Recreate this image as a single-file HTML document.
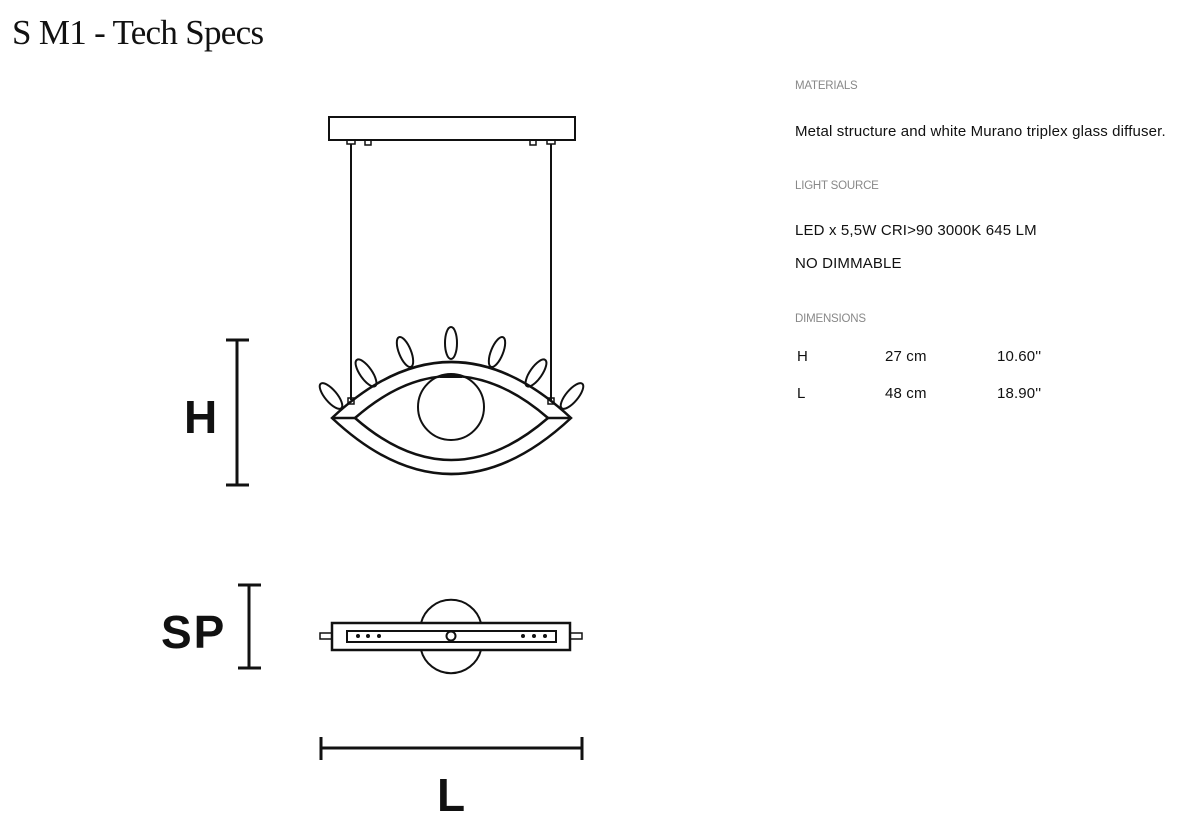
<!DOCTYPE html>
<html><head><meta charset="utf-8"><style>
html,body{margin:0;padding:0;background:#fff;width:1195px;height:825px;overflow:hidden;position:relative}
.t{position:absolute;left:12px;top:15px;font-family:"Liberation Serif",serif;font-size:35px;letter-spacing:-0.7px;color:#111;white-space:nowrap;line-height:1}
.r{position:absolute;left:795px;font-family:"Liberation Sans",sans-serif;white-space:nowrap;color:#111}
.lab{font-size:11.5px;color:#888;letter-spacing:-0.2px}
.b{font-size:15px;letter-spacing:0.15px}
</style></head><body>
<div class="t">S M1 - Tech Specs</div>
<div class="r lab" style="top:80px">MATERIALS</div>
<div class="r b" style="top:123px">Metal structure and white Murano triplex glass diffuser.</div>
<div class="r lab" style="top:180px">LIGHT SOURCE</div>
<div class="r b" style="top:222px">LED x 5,5W CRI&gt;90 3000K 645 LM</div>
<div class="r b" style="top:255px">NO DIMMABLE</div>
<div class="r lab" style="top:313px">DIMENSIONS</div>
<div class="r b" style="top:348px;left:797px">H</div>
<div class="r b" style="top:348px;left:885px">27 cm</div>
<div class="r b" style="top:348px;left:997px">10.60''</div>
<div class="r b" style="top:385px;left:797px">L</div>
<div class="r b" style="top:385px;left:885px">48 cm</div>
<div class="r b" style="top:385px;left:997px">18.90''</div>
<svg width="1195" height="825" style="position:absolute;left:0;top:0" fill="none" stroke="#111" stroke-width="2.5">
<rect x="329" y="117" width="246" height="23" stroke-width="2"/>
<rect x="347" y="140" width="8" height="4" stroke-width="1.5"/>
<rect x="365" y="140" width="6" height="5" stroke-width="1.5"/>
<rect x="530" y="140" width="6" height="5" stroke-width="1.5"/>
<rect x="547" y="140" width="8" height="4" stroke-width="1.5"/>
<line x1="351" y1="144" x2="351" y2="400" stroke-width="2"/>
<line x1="551" y1="144" x2="551" y2="400" stroke-width="2"/>
<rect x="348" y="398" width="6" height="6" stroke-width="1.5"/>
<rect x="548" y="398" width="6" height="6" stroke-width="1.5"/>
<path d="M332 418 Q451 306 571 418 Q451 530 332 418 Z"/>
<path d="M355 418 Q451 334 548 418 Q451 502 355 418 Z"/>
<line x1="332" y1="418" x2="355" y2="418"/>
<line x1="548" y1="418" x2="571" y2="418"/>
<circle cx="451" cy="407" r="33" stroke-width="2"/>
<line x1="440" y1="377" x2="462" y2="377" stroke-width="2"/>
<ellipse cx="451" cy="343" rx="6" ry="16" stroke-width="2"/>
<ellipse cx="405" cy="352" rx="6" ry="16" transform="rotate(-22 405 352)" stroke-width="2"/>
<ellipse cx="497" cy="352" rx="6" ry="16" transform="rotate(22 497 352)" stroke-width="2"/>
<ellipse cx="366" cy="373" rx="6" ry="16" transform="rotate(-35 366 373)" stroke-width="2"/>
<ellipse cx="536" cy="373" rx="6" ry="16" transform="rotate(35 536 373)" stroke-width="2"/>
<ellipse cx="331" cy="396" rx="6" ry="16" transform="rotate(-40 331 396)" stroke-width="2"/>
<ellipse cx="572" cy="396" rx="6" ry="16" transform="rotate(40 572 396)" stroke-width="2"/>
<path d="M421 623 A31 31 0 0 1 481 623 M421 650 A31 31 0 0 0 481 650" stroke-width="2"/>
<rect x="332" y="623" width="238" height="27" stroke-width="2.5"/>
<rect x="347" y="631" width="209" height="11" stroke-width="2"/>
<rect x="320" y="633" width="12" height="6" stroke-width="1.5"/>
<rect x="570" y="633" width="12" height="6" stroke-width="1.5"/>
<circle cx="451" cy="636" r="4.5" stroke-width="2"/>
<g fill="#111" stroke="none">
<circle cx="358" cy="636" r="2"/><circle cx="368" cy="636" r="2"/><circle cx="379" cy="636" r="2"/>
<circle cx="523" cy="636" r="2"/><circle cx="534" cy="636" r="2"/><circle cx="545" cy="636" r="2"/>
</g>
<g stroke-width="3">
<line x1="237" y1="340" x2="237" y2="485"/><line x1="226" y1="340" x2="249" y2="340"/><line x1="226" y1="485" x2="249" y2="485"/>
<line x1="249" y1="585" x2="249" y2="668"/><line x1="238" y1="585" x2="261" y2="585"/><line x1="238" y1="668" x2="261" y2="668"/>
<line x1="321" y1="748" x2="582" y2="748"/><line x1="321" y1="737" x2="321" y2="760"/><line x1="582" y1="737" x2="582" y2="760"/>
</g>
<g fill="#111" stroke="none" font-family="Liberation Sans,sans-serif" font-weight="bold" font-size="46">
<text x="184" y="433">H</text>
<text x="161" y="648" letter-spacing="2">SP</text>
<text x="437" y="811">L</text>
</g>
</svg>
</body></html>
